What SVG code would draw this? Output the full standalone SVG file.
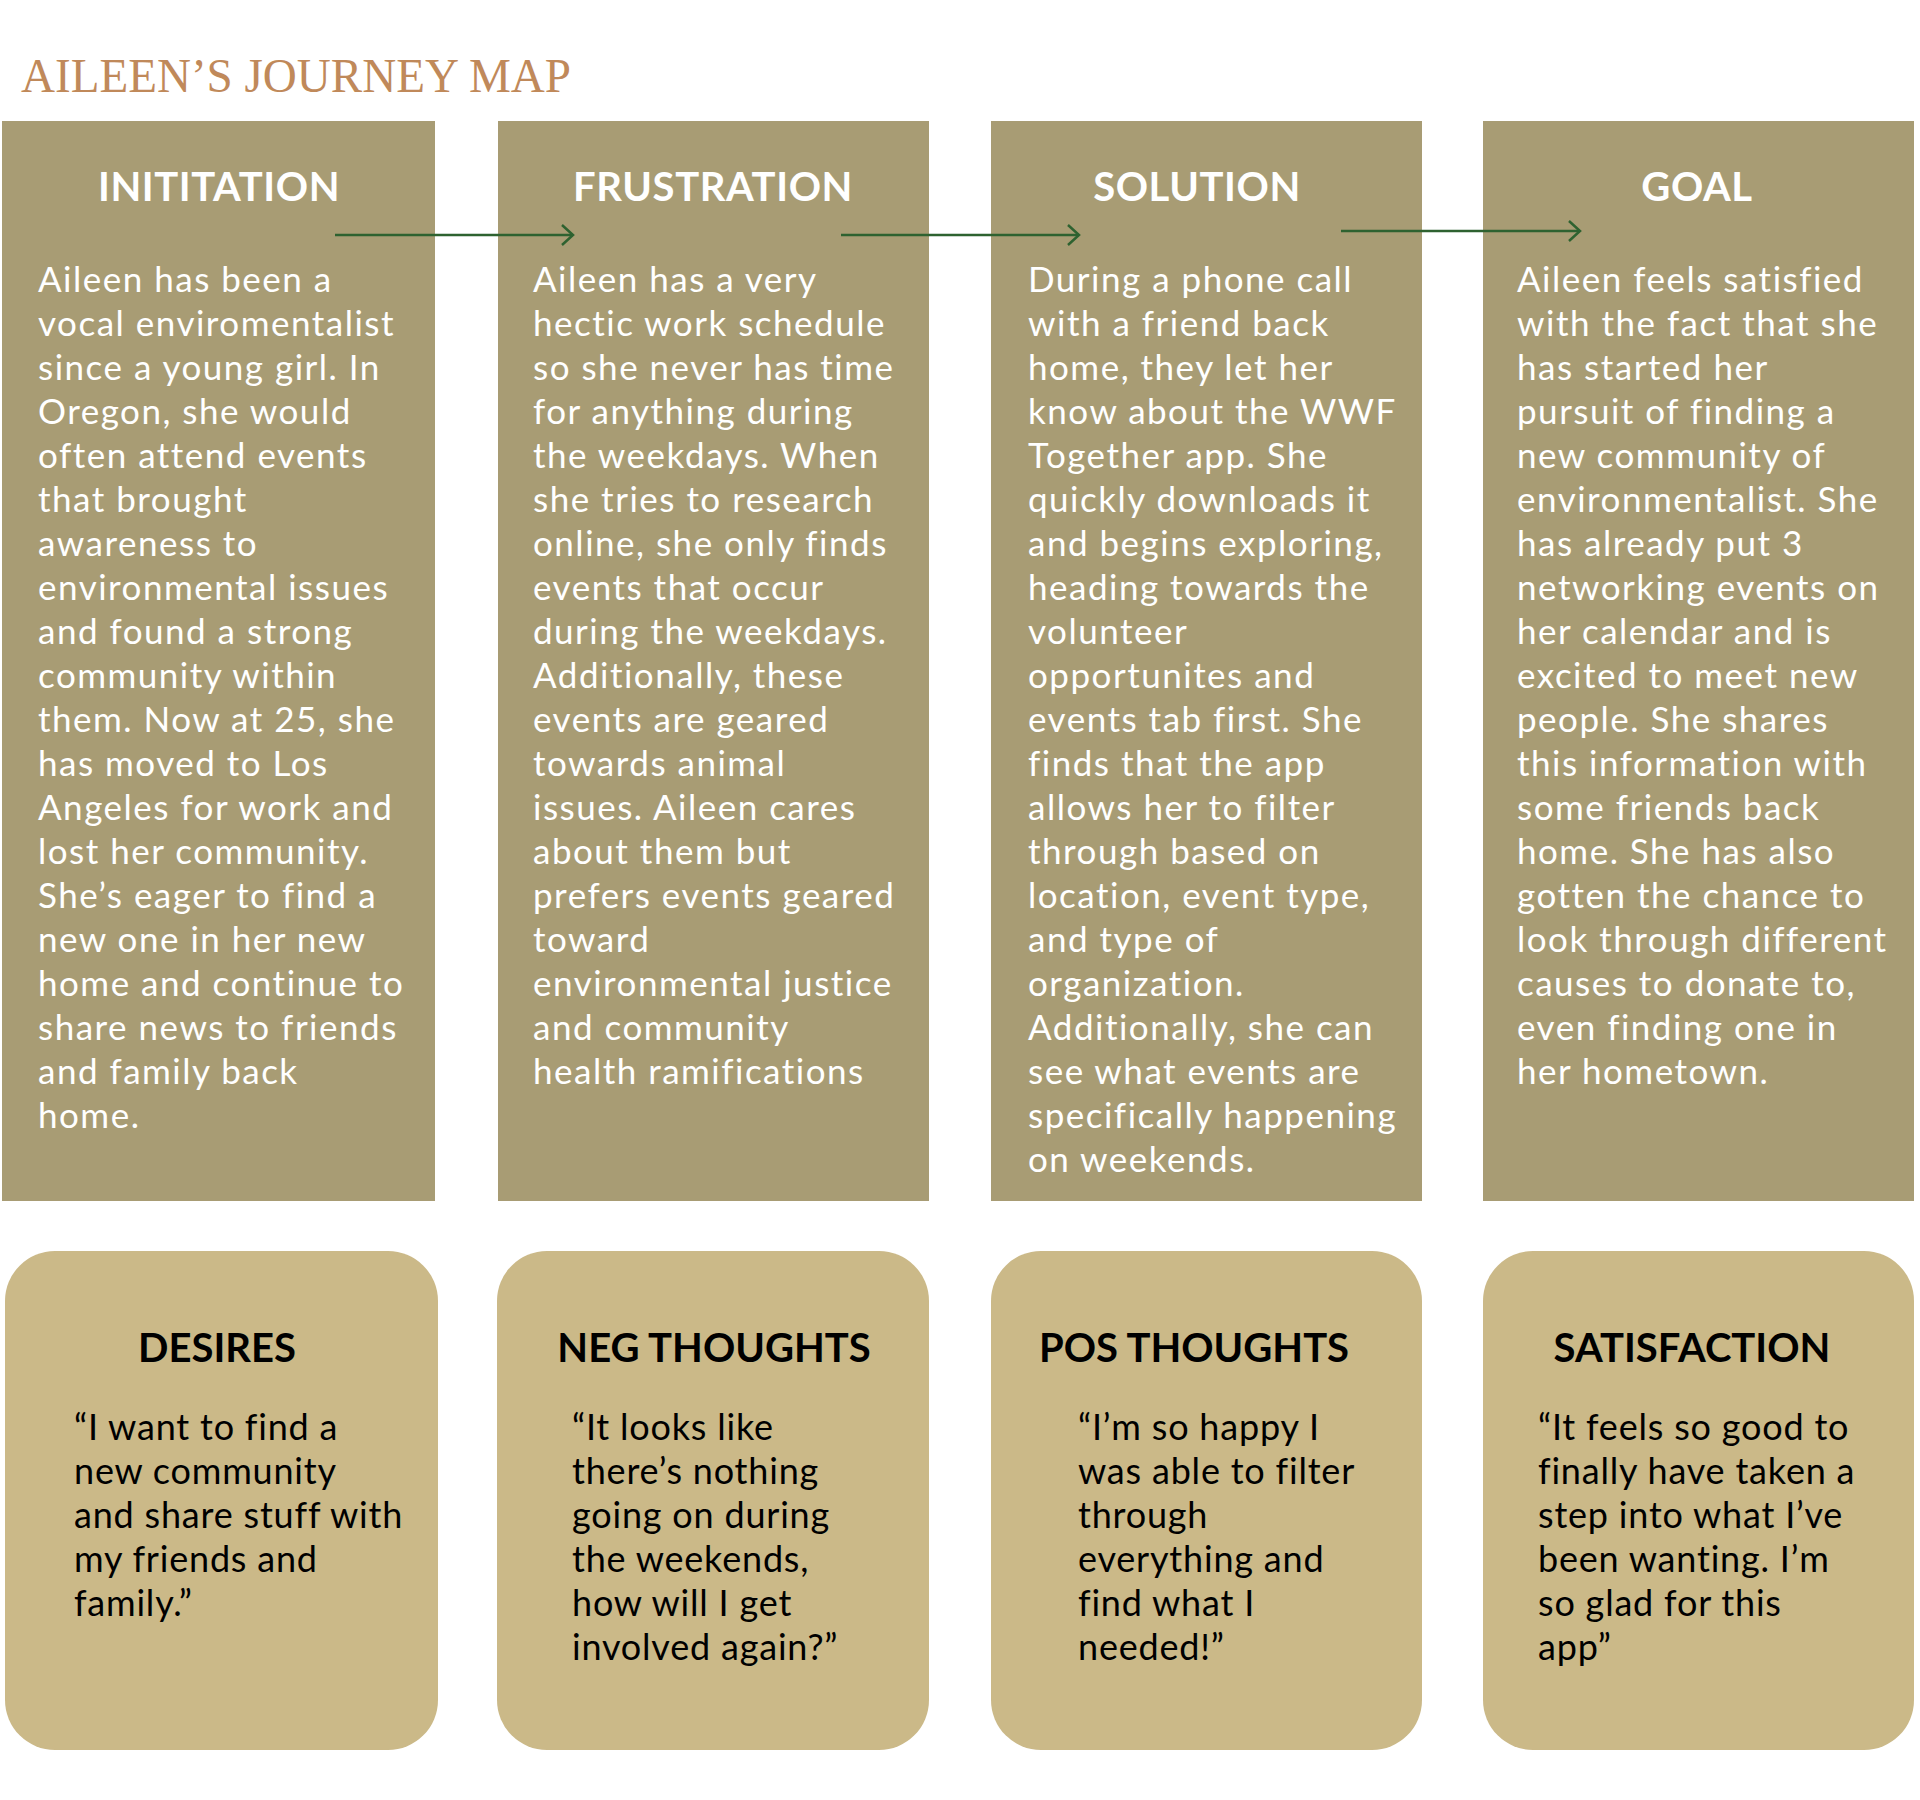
<svg xmlns="http://www.w3.org/2000/svg" width="1920" height="1800" viewBox="0 0 1920 1800">
<defs>
<style>
.stage{fill:#A89C74}
.emo{fill:#CBB988}
.title{font-family:"Liberation Serif",serif;font-size:48px;fill:#C0895A}
.hd{font-family:Lato,"Open Sans",sans-serif;font-weight:bold;font-size:40px;fill:#ffffff;text-anchor:middle;letter-spacing:0.6px}
.hd2{font-family:Lato,"Open Sans",sans-serif;font-weight:bold;font-size:40px;fill:#000000;text-anchor:middle}
.body{font-family:Lato,"Open Sans",sans-serif;font-size:35px;fill:#ffffff;letter-spacing:1.5px}
.quote{font-family:Lato,"Open Sans",sans-serif;font-size:36px;fill:#000000;letter-spacing:0.8px}
.conn{stroke:#2E6230;stroke-width:2.5;fill:none}
</style>
<marker id="arr" viewBox="0 0 14 22" refX="12" refY="11" markerWidth="14" markerHeight="22" markerUnits="userSpaceOnUse" orient="auto">
<path d="M1,1 L12,11 L1,21" fill="none" stroke="#2E6230" stroke-width="2.5"/>
</marker>
</defs>
<rect x="0" y="0" width="1920" height="1800" fill="#ffffff"/>
<text class="title" x="21" y="92" textLength="550" lengthAdjust="spacingAndGlyphs">AILEEN’S JOURNEY MAP</text>

<g id="initiation">
<rect class="stage" x="2" y="121" width="433" height="1080"/>
<text class="hd" x="219" y="201">INITITATION</text>
<text class="body" x="38" y="292"><tspan x="38">Aileen has been a</tspan><tspan x="38" dy="44">vocal enviromentalist</tspan><tspan x="38" dy="44">since a young girl. In</tspan><tspan x="38" dy="44">Oregon, she would</tspan><tspan x="38" dy="44">often attend events</tspan><tspan x="38" dy="44">that brought</tspan><tspan x="38" dy="44">awareness to</tspan><tspan x="38" dy="44">environmental issues</tspan><tspan x="38" dy="44">and found a strong</tspan><tspan x="38" dy="44">community within</tspan><tspan x="38" dy="44">them. Now at 25, she</tspan><tspan x="38" dy="44">has moved to Los</tspan><tspan x="38" dy="44">Angeles for work and</tspan><tspan x="38" dy="44">lost her community.</tspan><tspan x="38" dy="44">She’s eager to find a</tspan><tspan x="38" dy="44">new one in her new</tspan><tspan x="38" dy="44">home and continue to</tspan><tspan x="38" dy="44">share news to friends</tspan><tspan x="38" dy="44">and family back</tspan><tspan x="38" dy="44">home.</tspan></text>
</g>

<g id="frustration">
<rect class="stage" x="498" y="121" width="431" height="1080"/>
<text class="hd" x="713" y="201">FRUSTRATION</text>
<text class="body" x="533" y="292"><tspan x="533">Aileen has a very</tspan><tspan x="533" dy="44">hectic work schedule</tspan><tspan x="533" dy="44">so she never has time</tspan><tspan x="533" dy="44">for anything during</tspan><tspan x="533" dy="44">the weekdays. When</tspan><tspan x="533" dy="44">she tries to research</tspan><tspan x="533" dy="44">online, she only finds</tspan><tspan x="533" dy="44">events that occur</tspan><tspan x="533" dy="44">during the weekdays.</tspan><tspan x="533" dy="44">Additionally, these</tspan><tspan x="533" dy="44">events are geared</tspan><tspan x="533" dy="44">towards animal</tspan><tspan x="533" dy="44">issues. Aileen cares</tspan><tspan x="533" dy="44">about them but</tspan><tspan x="533" dy="44">prefers events geared</tspan><tspan x="533" dy="44">toward</tspan><tspan x="533" dy="44">environmental justice</tspan><tspan x="533" dy="44">and community</tspan><tspan x="533" dy="44">health ramifications</tspan></text>
</g>

<g id="solution">
<rect class="stage" x="991" y="121" width="431" height="1080"/>
<text class="hd" x="1197" y="201">SOLUTION</text>
<text class="body" x="1028" y="292"><tspan x="1028">During a phone call</tspan><tspan x="1028" dy="44">with a friend back</tspan><tspan x="1028" dy="44">home, they let her</tspan><tspan x="1028" dy="44">know about the WWF</tspan><tspan x="1028" dy="44">Together app. She</tspan><tspan x="1028" dy="44">quickly downloads it</tspan><tspan x="1028" dy="44">and begins exploring,</tspan><tspan x="1028" dy="44">heading towards the</tspan><tspan x="1028" dy="44">volunteer</tspan><tspan x="1028" dy="44">opportunites and</tspan><tspan x="1028" dy="44">events tab first. She</tspan><tspan x="1028" dy="44">finds that the app</tspan><tspan x="1028" dy="44">allows her to filter</tspan><tspan x="1028" dy="44">through based on</tspan><tspan x="1028" dy="44">location, event type,</tspan><tspan x="1028" dy="44">and type of</tspan><tspan x="1028" dy="44">organization.</tspan><tspan x="1028" dy="44">Additionally, she can</tspan><tspan x="1028" dy="44">see what events are</tspan><tspan x="1028" dy="44">specifically happening</tspan><tspan x="1028" dy="44">on weekends.</tspan></text>
</g>

<g id="goal">
<rect class="stage" x="1483" y="121" width="431" height="1080"/>
<text class="hd" x="1697" y="201">GOAL</text>
<text class="body" x="1517" y="292"><tspan x="1517">Aileen feels satisfied</tspan><tspan x="1517" dy="44">with the fact that she</tspan><tspan x="1517" dy="44">has started her</tspan><tspan x="1517" dy="44">pursuit of finding a</tspan><tspan x="1517" dy="44">new community of</tspan><tspan x="1517" dy="44">environmentalist. She</tspan><tspan x="1517" dy="44">has already put 3</tspan><tspan x="1517" dy="44">networking events on</tspan><tspan x="1517" dy="44">her calendar and is</tspan><tspan x="1517" dy="44">excited to meet new</tspan><tspan x="1517" dy="44">people. She shares</tspan><tspan x="1517" dy="44">this information with</tspan><tspan x="1517" dy="44">some friends back</tspan><tspan x="1517" dy="44">home. She has also</tspan><tspan x="1517" dy="44">gotten the chance to</tspan><tspan x="1517" dy="44">look through different</tspan><tspan x="1517" dy="44">causes to donate to,</tspan><tspan x="1517" dy="44">even finding one in</tspan><tspan x="1517" dy="44">her hometown.</tspan></text>
</g>

<g id="connectors">
<line class="conn" x1="335" y1="235" x2="573" y2="235" marker-end="url(#arr)"/>
<line class="conn" x1="841" y1="235" x2="1079" y2="235" marker-end="url(#arr)"/>
<line class="conn" x1="1341" y1="231" x2="1580" y2="231" marker-end="url(#arr)"/>
</g>

<g id="desires">
<rect class="emo" x="5" y="1251" width="433" height="499" rx="50" ry="50"/>
<text class="hd2" x="217" y="1362">DESIRES</text>
<text class="quote" x="74" y="1440"><tspan x="74">“I want to find a</tspan><tspan x="74" dy="44">new community</tspan><tspan x="74" dy="44">and share stuff with</tspan><tspan x="74" dy="44">my friends and</tspan><tspan x="74" dy="44">family.”</tspan></text>
</g>

<g id="neg-thoughts">
<rect class="emo" x="497" y="1251" width="432" height="499" rx="50" ry="50"/>
<text class="hd2" x="714" y="1362">NEG THOUGHTS</text>
<text class="quote" x="572" y="1440"><tspan x="572">“It looks like</tspan><tspan x="572" dy="44">there’s nothing</tspan><tspan x="572" dy="44">going on during</tspan><tspan x="572" dy="44">the weekends,</tspan><tspan x="572" dy="44">how will I get</tspan><tspan x="572" dy="44">involved again?”</tspan></text>
</g>

<g id="pos-thoughts">
<rect class="emo" x="991" y="1251" width="431" height="499" rx="50" ry="50"/>
<text class="hd2" x="1194" y="1362">POS THOUGHTS</text>
<text class="quote" x="1078" y="1440"><tspan x="1078">“I’m so happy I</tspan><tspan x="1078" dy="44">was able to filter</tspan><tspan x="1078" dy="44">through</tspan><tspan x="1078" dy="44">everything and</tspan><tspan x="1078" dy="44">find what I</tspan><tspan x="1078" dy="44">needed!”</tspan></text>
</g>

<g id="satisfaction">
<rect class="emo" x="1483" y="1251" width="431" height="499" rx="50" ry="50"/>
<text class="hd2" x="1692" y="1362">SATISFACTION</text>
<text class="quote" x="1538" y="1440"><tspan x="1538">“It feels so good to</tspan><tspan x="1538" dy="44">finally have taken a</tspan><tspan x="1538" dy="44">step into what I’ve</tspan><tspan x="1538" dy="44">been wanting. I’m</tspan><tspan x="1538" dy="44">so glad for this</tspan><tspan x="1538" dy="44">app”</tspan></text>
</g>
</svg>
